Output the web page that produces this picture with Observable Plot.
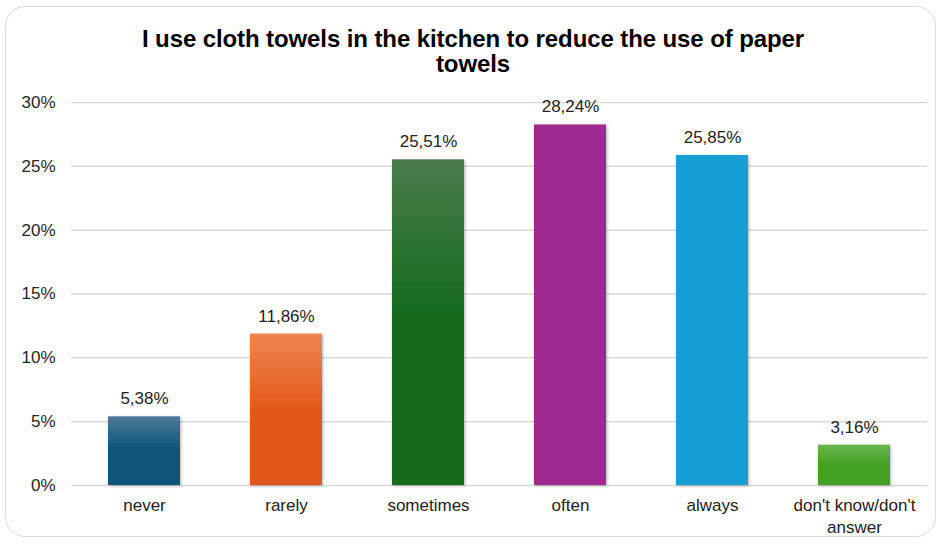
<!DOCTYPE html>
<html>
<head>
<meta charset="utf-8">
<script src="https://cdn.jsdelivr.net/npm/d3@7"></script>
<script src="https://cdn.jsdelivr.net/npm/@observablehq/plot@0.6"></script>
<style>
  html, body { margin: 0; padding: 0; background: #fff; }
  #wrap { position: relative; width: 946px; height: 545px; overflow: hidden; font-family: "Liberation Sans", Arial, sans-serif; }
  #frame { position: absolute; left: 5px; top: 6px; width: 931px; height: 531px; border: 1.5px solid #d9d9d9; border-radius: 20px; box-sizing: border-box; }
  #title { position: absolute; left: 0; top: 26px; width: 946px; text-align: center; font-size: 24px; font-weight: bold; line-height: 25px; color: #000; letter-spacing: -0.1px; }
  #chart { position: absolute; left: 0; top: 90px; }
</style>
</head>
<body>
<div id="wrap">
  <div id="frame"></div>
  <div id="title">I use cloth towels in the kitchen to reduce the use of paper<br>towels</div>
  <div id="chart"></div>
</div>
<script>
const categories = ["never", "rarely", "sometimes", "often", "always", "don't know/don't answer"];
const tickLabels = ["never", "rarely", "sometimes", "often", "always", "don't know/don't\nanswer"];
const values = [5.38, 11.86, 25.51, 28.24, 25.85, 3.16];
const yTicks = [0, 5, 10, 15, 20, 25, 30];
const gradientTop = ["#4e7a99", "#ef8650", "#4a7c4a", "#9e2b8f", "#149fd7", "#6ab54f"];
const gradientBottom = ["#0a5479", "#e2591a", "#126a1d", "#9e2b8f", "#139fd6", "#43a021"];

const data = categories.map((c, i) => ({category: c, value: values[i], idx: i, label: tickLabels[i]}));

const svg = Plot.plot({
  width: 946,
  height: 455,
  marginLeft: 71,
  marginRight: 19,
  marginTop: 12,
  marginBottom: 60,
  style: {fontFamily: "'Liberation Sans', Arial, sans-serif", fontSize: "17px", color: "#262626", background: "transparent"},
  x: {domain: categories, paddingInner: 0.495, paddingOuter: 0.2475, label: null, axis: null},
  y: {domain: [0, 30], ticks: yTicks, tickSize: 0, tickPadding: 16, label: null, tickFormat: d => d + "%"},
  color: {type: "identity"},
  marks: [
    Plot.ruleY(yTicks, {stroke: "#d9d9d9", strokeWidth: 1.5}),
    Plot.barY(data, {x: "category", y: "value", fill: d => `url(#grad${d.idx})`}),
    Plot.text(data, {x: "category", y: "value", text: d => d.value.toFixed(2).replace(".", ",") + "%",
      dy: -18, fontSize: 17, fill: "#222"}),
    Plot.text(data, {x: "category", y: () => 0, text: "label", lineAnchor: "top", lineHeight: 1.3,
      dy: 10, fontSize: 17, fill: "#222"})
  ]
});

const ns = "http://www.w3.org/2000/svg";
const defs = document.createElementNS(ns, "defs");
let html = `<filter id="shadow" x="-20%" y="-20%" width="140%" height="140%"><feDropShadow dx="1" dy="1" stdDeviation="1.5" flood-color="#000" flood-opacity="0.3"/></filter>`;
gradientTop.forEach((t, i) => {
  html += `<linearGradient id="grad${i}" x1="0" y1="0" x2="0" y2="1"><stop offset="0" stop-color="${t}"/><stop offset="0.5" stop-color="${gradientBottom[i]}"/><stop offset="1" stop-color="${gradientBottom[i]}"/></linearGradient>`;
});
defs.innerHTML = html;
svg.prepend(defs);
svg.querySelectorAll("g[aria-label='bar'] rect").forEach(r => r.setAttribute("filter", "url(#shadow)"));
document.getElementById("chart").appendChild(svg);
</script>
</body>
</html>
